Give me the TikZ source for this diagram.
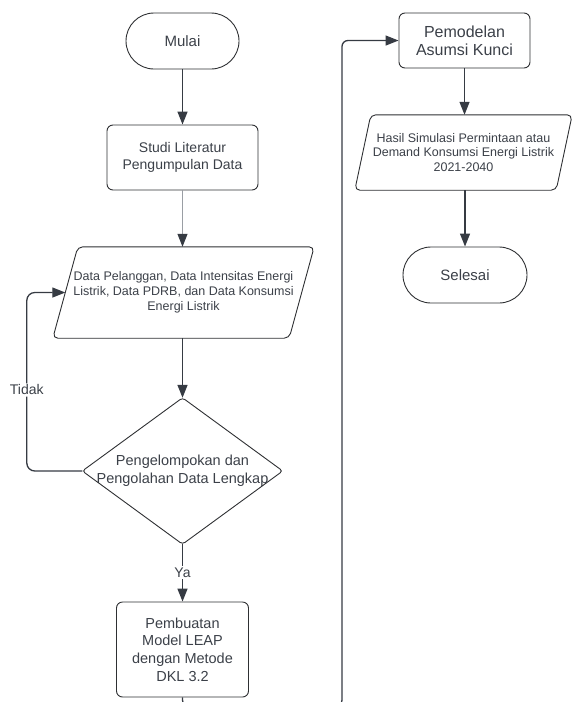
\documentclass[tikz,border=0pt]{standalone}
\usepackage{fontspec}
\setmainfont{Liberation Sans}
\usetikzlibrary{arrows.meta,calc}
\definecolor{txt}{HTML}{3B4048}
\definecolor{bd}{HTML}{2E3033}
\definecolor{ln}{HTML}{363B43}
\definecolor{lite}{HTML}{9A9EA4}
\begin{document}
\begin{tikzpicture}[x=1pt,y=-1pt,
  every node/.style={text=txt, align=center, inner sep=0pt},
  procbox/.style={draw=bd, line width=0.9pt, rounded corners=6pt},
  termbox/.style={draw=bd, line width=0.9pt, rounded corners=28pt},
  shapeline/.style={draw=bd, line width=0.9pt},
  conn/.style={draw=ln, line width=1.3pt, -{Triangle[width=10pt,length=13pt]}},
  lbl/.style={fill=white, inner sep=1.5pt, font=\fontsize{14}{16}\selectfont}
]
\useasboundingbox (0,0) rectangle (574,702);

% left column
\node[termbox, minimum width=113pt, minimum height=56pt, font=\fontsize{15}{18}\selectfont] (mulai) at (182.5,41) {Mulai};
\node[procbox, minimum width=151pt, minimum height=65pt, font=\fontsize{14}{17.5}\selectfont] (studi) at (182.5,157.5) {Studi Literatur\\Pengumpulan Data};
\node[minimum width=261pt, minimum height=91pt, font=\fontsize{12.5}{15}\selectfont] (data) at (183.5,292.5) {Data Pelanggan, Data Intensitas Energi\\Listrik, Data PDRB, dan Data Konsumsi\\Energi Listrik};
\draw[shapeline, rounded corners=5pt] ([xshift=25pt]data.north west) -- (data.north east) -- ([xshift=-25pt]data.south east) -- (data.south west) -- cycle;
\node[minimum width=200pt, minimum height=146pt, font=\fontsize{14.5}{18}\selectfont] (dec) at (182.5,471) {Pengelompokan dan\\Pengolahan Data Lengkap};
\draw[shapeline, rounded corners=3pt] (dec.north) -- (dec.east) -- (dec.south) -- (dec.west) -- cycle;
\node[procbox, minimum width=132pt, minimum height=95pt, font=\fontsize{14.5}{17.7}\selectfont] (pemb) at (182.5,649.5) {Pembuatan\\Model LEAP\\dengan Metode\\DKL 3.2};

% right column
\node[procbox, minimum width=131pt, minimum height=55pt, font=\fontsize{16}{18}\selectfont] (pemo) at (464.5,40.5) {Pemodelan\\Asumsi Kunci};
\node[minimum width=217pt, minimum height=75pt, font=\fontsize{12.5}{14.5}\selectfont] (hasil) at (463.5,152.5) {Hasil Simulasi Permintaan atau\\Demand Konsumsi Energi Listrik\\2021-2040};
\draw[shapeline, rounded corners=5pt] ([xshift=16pt]hasil.north west) -- (hasil.north east) -- ([xshift=-16pt]hasil.south east) -- (hasil.south west) -- cycle;
\node[termbox, minimum width=124pt, minimum height=56pt, font=\fontsize{15}{18}\selectfont] (sel) at (465,275) {Selesai};

% connectors
\draw[conn] (mulai) -- (studi);
\draw[conn, draw=lite, line width=1pt, -{Triangle[width=10pt,length=13pt,color=ln]}] (studi.south) -- (studi.south |- data.north);
\draw[conn] (dec.north |- data.south) -- (dec.north);
\draw[conn, rounded corners=8pt] (dec.west) -| node[lbl, pos=0.727] {Tidak} ($(data.west)+(-26,0)$) -- ([xshift=12.5pt]data.west);
\draw[conn] (dec.south) -- node[lbl] {Ya} (pemb.north);
\coordinate (c1) at (342,706);
\draw[conn, rounded corners=6pt] (pemb.south) |- (c1) |- (pemo.west);
\draw[conn] (pemo.south) -- (pemo.south |- hasil.north);
\draw[conn] (hasil.south -| sel.north) -- (sel.north);
\end{tikzpicture}
\end{document}
